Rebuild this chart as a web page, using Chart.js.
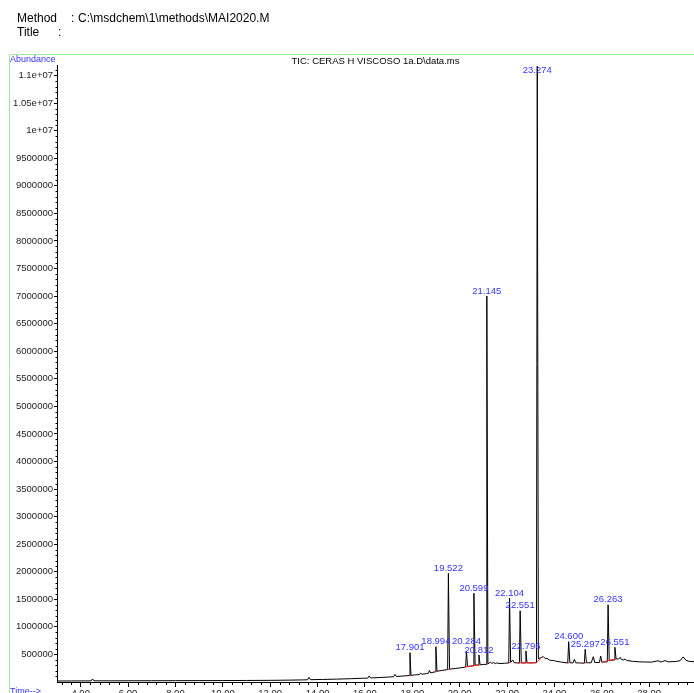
<!DOCTYPE html>
<html>
<head>
<meta charset="utf-8">
<script src="https://cdn.jsdelivr.net/npm/chart.js@4/dist/chart.umd.min.js"></script>
<style>
  html, body { margin: 0; padding: 0; background: #fff; }
  canvas { display: block; }
</style>
</head>
<body>
<canvas id="c" width="694" height="693"></canvas>
<script>
// Total ion chromatogram: [retention time (min), abundance]
const tic = [
  [3.00, 18000], [3.60, 19000], [4.20, 20000], [4.44, 20000], [4.50, 55000], [4.56, 21000],
  [5.20, 21000], [6.00, 22000], [7.00, 23000], [8.00, 24000], [9.00, 25000], [10.00, 26000],
  [11.00, 28000], [12.00, 30000], [12.80, 34000], [13.40, 38000], [13.58, 40000], [13.64, 85000],
  [13.70, 42000], [14.20, 46000], [14.80, 52000], [15.40, 60000], [15.90, 68000], [16.12, 70000],
  [16.18, 110000], [16.24, 73000], [16.60, 80000], [17.00, 90000], [17.21, 96000], [17.27, 140000],
  [17.33, 100000], [17.60, 108000], [17.87, 118000], [17.901, 531000], [17.94, 120000],
  [18.10, 128000], [18.30, 135000], [18.35, 165000], [18.40, 140000], [18.60, 152000],
  [18.68, 158000], [18.72, 210000], [18.77, 165000], [18.96, 185000], [18.994, 640000],
  [19.04, 195000], [19.25, 210000], [19.49, 225000], [19.522, 1970000], [19.57, 232000],
  [19.80, 245000], [20.05, 258000], [20.25, 272000], [20.284, 562000], [20.33, 282000],
  [20.45, 288000], [20.57, 295000], [20.599, 1610000], [20.65, 305000], [20.78, 308000],
  [20.812, 490000], [20.86, 312000], [21.00, 318000], [21.115, 320000], [21.145, 7000000],
  [21.19, 330000], [21.30, 360000], [21.36, 335000], [21.42, 355000], [21.50, 332000],
  [21.56, 345000], [21.70, 335000], [21.90, 340000], [22.07, 345000], [22.104, 1520000],
  [22.15, 355000], [22.24, 400000], [22.30, 350000], [22.45, 345000], [22.52, 345000],
  [22.551, 1290000], [22.60, 350000], [22.70, 345000], [22.77, 348000], [22.796, 562000],
  [22.84, 350000], [23.00, 345000], [23.10, 348000], [23.24, 350000], [23.274, 11170000],
  [23.32, 420000], [23.42, 440000], [23.53, 460000], [23.62, 420000], [23.68, 430000],
  [23.80, 395000], [23.95, 390000], [24.10, 375000], [24.30, 360000], [24.56, 345000],
  [24.600, 731000], [24.65, 350000], [24.78, 345000], [24.84, 411000], [24.90, 348000],
  [25.05, 345000], [25.26, 342000], [25.297, 593000], [25.35, 350000], [25.55, 348000],
  [25.64, 459000], [25.70, 352000], [25.90, 355000], [25.95, 471000], [26.00, 360000],
  [26.23, 365000], [26.263, 1400000], [26.31, 390000], [26.45, 395000], [26.52, 400000],
  [26.551, 629000], [26.60, 420000], [26.70, 415000], [26.77, 448000], [26.83, 405000],
  [26.92, 400000], [26.98, 417000], [27.05, 390000], [27.30, 375000], [27.60, 365000],
  [27.90, 362000], [28.10, 360000], [28.37, 386000], [28.50, 362000], [28.67, 388000],
  [28.80, 365000], [29.10, 372000], [29.30, 385000], [29.43, 455000], [29.55, 395000],
  [29.70, 372000], [29.89, 368000]
];

// Integrated peaks that carry a retention-time label
const labelledPeaks = ['17.901', '18.994', '19.522', '20.284', '20.599', '20.812', '21.145',
  '22.104', '22.551', '22.796', '23.274', '24.600', '25.297', '26.263', '26.551'];

// Integration baselines: [start time, start abundance, end time, end abundance]
const baselines = [
  [17.87, 118000, 17.94, 120000],
  [18.96, 185000, 19.04, 195000],
  [19.49, 225000, 19.57, 232000],
  [20.25, 272000, 20.86, 312000],
  [21.115, 320000, 21.19, 330000],
  [22.07, 345000, 22.15, 355000],
  [22.45, 345000, 23.24, 350000],
  [23.24, 350000, 23.45, 440000],
  [24.56, 345000, 24.65, 350000],
  [25.26, 342000, 25.35, 350000],
  [26.00, 360000, 26.60, 420000]
];

// Axis tick values
const timeTickStep = 0.4;       // minutes between time ticks
const abundanceTickStep = 500000;
const abundanceTop = 11000000;  // highest labelled abundance tick

const methodLine = 'C:\\msdchem\\1\\methods\\MAI2020.M';
const signalName = 'TIC: CERAS H VISCOSO 1a.D\\data.ms';

const FONT = '"Liberation Sans", Arial, sans-serif';
const BLUE = '#3434ff';

const ticPoints = tic.map(([x, y]) => ({ x, y }));
const baselinePoints = [];
baselines.forEach(([x0, y0, x1, y1]) => {
  baselinePoints.push({ x: x0, y: y0 }, { x: x1, y: y1 }, { x: x1, y: null });
});

const isMajorTime = v => Math.abs(v / 2 - Math.round(v / 2)) < 1e-6;

const decorations = {
  id: 'decorations',
  afterDraw(chart) {
    const ctx = chart.ctx;
    const area = chart.chartArea;
    const xs = chart.scales.x, ys = chart.scales.y;
    ctx.save();

    // header
    ctx.fillStyle = '#000';
    ctx.font = '12px ' + FONT;
    ctx.textBaseline = 'middle';
    ctx.textAlign = 'left';
    ctx.fillText('Method', 17, 19);
    ctx.fillText(':', 71, 19);
    ctx.fillText(methodLine, 78, 19);
    ctx.fillText('Title', 17, 32.5);
    ctx.fillText(':', 58, 32.5);

    // frame
    ctx.strokeStyle = 'rgb(150,238,150)';
    ctx.lineWidth = 1;
    ctx.beginPath();
    ctx.moveTo(9.5, 693); ctx.lineTo(9.5, 54.5); ctx.lineTo(694, 54.5);
    ctx.stroke();

    // axis captions and signal name
    ctx.font = '9px ' + FONT;
    ctx.fillStyle = BLUE;
    ctx.fillText('Abundance', 10, 60);
    ctx.textBaseline = 'top';
    ctx.fillText('Time-->', 10, 687);
    ctx.fillStyle = '#000';
    ctx.font = '9.5px ' + FONT;
    ctx.textAlign = 'center';
    ctx.textBaseline = 'middle';
    ctx.fillText(signalName, (area.left + area.right) / 2, 61);

    // minor ticks
    ctx.strokeStyle = '#000';
    ctx.beginPath();
    xs.ticks.forEach(t => {
      if (isMajorTime(t.value)) return;
      const px = Math.round(xs.getPixelForValue(t.value)) + 0.5;
      ctx.moveTo(px, area.bottom); ctx.lineTo(px, area.bottom + 3);
    });
    for (let v = 100000; v < ys.max; v += 100000) {
      if (v % abundanceTickStep === 0) continue;
      const py = Math.round(ys.getPixelForValue(v)) + 0.5;
      ctx.moveTo(area.left - 1.5, py); ctx.lineTo(area.left, py);
    }
    ctx.stroke();

    // peak labels
    ctx.fillStyle = BLUE;
    ctx.font = '9.5px ' + FONT;
    ctx.textAlign = 'center';
    ctx.textBaseline = 'middle';
    const lift = { '20.284': 10 };
    labelledPeaks.forEach(lbl => {
      const rt = parseFloat(lbl);
      const pt = tic.find(p => Math.abs(p[0] - rt) < 1e-9);
      if (!pt) return;
      const px = xs.getPixelForValue(pt[0]);
      let py = ys.getPixelForValue(pt[1]) - (lift[lbl] || 5);
      py = Math.max(py, area.top + 5);
      ctx.fillText(lbl, px, py);
    });

    ctx.restore();
  }
};

new Chart(document.getElementById('c'), {
  type: 'line',
  data: {
    datasets: [
      { data: baselinePoints, borderColor: '#ff2020', borderWidth: 1, pointRadius: 0, spanGaps: false },
      { data: ticPoints, borderColor: '#000', borderWidth: 1, pointRadius: 0 }
    ]
  },
  options: {
    responsive: false,
    animation: false,
    events: [],
    layout: { padding: { top: 65, left: 0, right: 0, bottom: 0 } },
    plugins: { legend: { display: false }, tooltip: { enabled: false } },
    elements: { line: { tension: 0 } },
    scales: {
      x: {
        type: 'linear',
        min: 3.0,
        max: 29.89,
        afterFit(s) { s.height = 11; },
        afterBuildTicks(s) {
          const t = [];
          for (let k = Math.ceil(s.min / timeTickStep); k * timeTickStep <= s.max; k++) {
            t.push({ value: Math.round(k * timeTickStep * 10) / 10 });
          }
          s.ticks = t;
        },
        ticks: {
          autoSkip: false,
          maxRotation: 0,
          padding: 1,
          color: '#222',
          font: { size: 9.5, family: FONT },
          callback: v => isMajorTime(v) ? v.toFixed(2) : ''
        },
        grid: {
          drawOnChartArea: false,
          tickLength: 5,
          tickColor: c => (c.tick && isMajorTime(c.tick.value)) ? '#000' : 'rgba(0,0,0,0)'
        },
        border: { color: '#000', width: 1 }
      },
      y: {
        min: 0,
        max: 11190000,
        afterFit(s) { s.width = 57; },
        afterBuildTicks(s) {
          const t = [];
          for (let v = abundanceTickStep; v <= abundanceTop; v += abundanceTickStep) t.push({ value: v });
          s.ticks = t;
        },
        ticks: {
          autoSkip: false,
          padding: 1,
          color: '#222',
          font: { size: 9.5, family: FONT },
          callback: v => v >= 1e7 ? (Math.round(v / 1e5) / 100) + 'e+07' : String(Math.round(v))
        },
        grid: { drawOnChartArea: false, tickLength: 3, tickColor: '#000' },
        border: { color: '#000', width: 1 }
      }
    }
  },
  plugins: [decorations]
});
</script>
</body>
</html>
